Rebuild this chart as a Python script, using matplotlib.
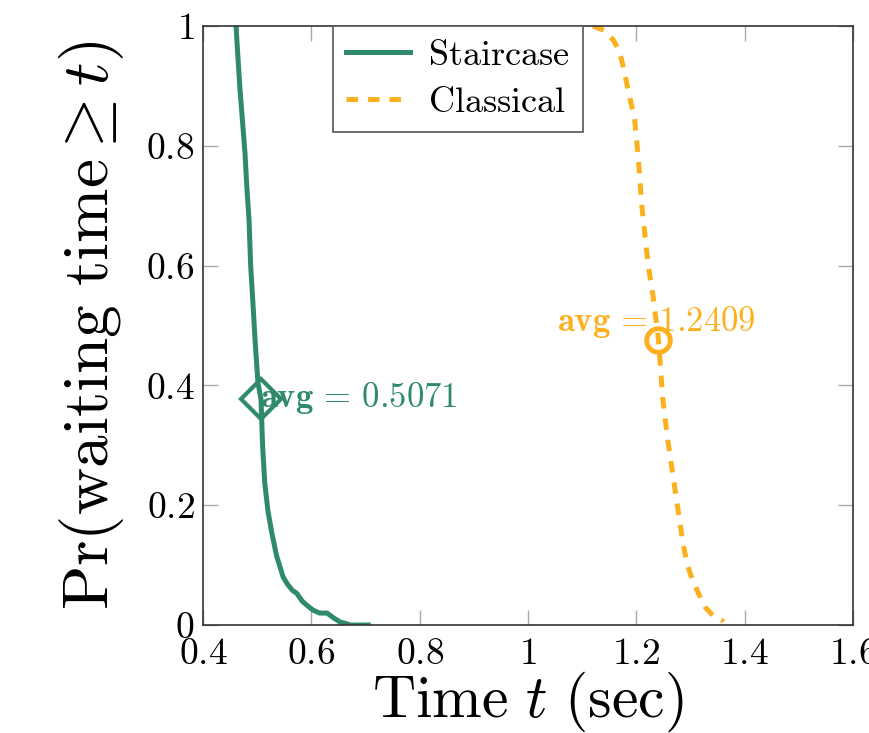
import matplotlib
matplotlib.use("Agg")
import matplotlib.pyplot as plt
from matplotlib.ticker import FuncFormatter

plt.rcParams['font.family'] = 'serif'
plt.rcParams['font.serif'] = ['cmr10', 'DejaVu Serif']
plt.rcParams['mathtext.fontset'] = 'cm'
plt.rcParams['axes.formatter.use_mathtext'] = True

# Staircase: survival curve of waiting time
stair_t = [0.461, 0.464, 0.468, 0.473, 0.4775, 0.481, 0.485, 0.488, 0.492, 0.4965, 0.5015,
           0.5071, 0.510, 0.514, 0.520, 0.527, 0.536, 0.548, 0.556, 0.565, 0.573,
           0.583, 0.593, 0.603, 0.615, 0.629, 0.641, 0.653, 0.662, 0.672, 0.705]
stair_p = [1.0, 0.955, 0.898, 0.84, 0.788, 0.73, 0.676, 0.6, 0.54, 0.47, 0.404,
           0.377, 0.30, 0.237, 0.19, 0.154, 0.115, 0.08, 0.068, 0.058, 0.053,
           0.04, 0.032, 0.025, 0.02, 0.02, 0.012, 0.005, 0.003, 0.0, 0.0]

# Classical
class_t = [1.12, 1.14, 1.157, 1.166, 1.173, 1.185, 1.197, 1.204, 1.21, 1.216, 1.222, 1.231,
           1.2409, 1.249, 1.258, 1.268, 1.277, 1.286, 1.292, 1.299, 1.312, 1.327, 1.342,
           1.358, 1.36]
class_p = [1.0, 0.993, 0.977, 0.963, 0.943, 0.893, 0.843, 0.775, 0.7, 0.65, 0.6, 0.548,
           0.476, 0.376, 0.309, 0.247, 0.192, 0.137, 0.11, 0.087, 0.058, 0.03, 0.015,
           0.008, 0.005]

stair_avg = 0.5071
stair_avg_p = 0.377
class_avg = 1.2409
class_avg_p = 0.476

green = '#2f8a6a'
orange = '#fdb01e'

fig = plt.figure(figsize=(8.69, 7.33), dpi=100)
ax = fig.add_axes([0.2336, 0.1473, 0.7480, 0.8172])

ax.plot(stair_t, stair_p, color=green, lw=3.6, label='Staircase', solid_joinstyle='round')
ax.plot(class_t, class_p, color=orange, lw=3.6, ls=(0, (2.3, 2.0)), label='Classical')

ax.plot([stair_avg], [stair_avg_p], marker='D', ms=20, mfc='none', mec=green, mew=3)
ax.plot([class_avg], [class_avg_p], marker='o', ms=17, mfc='none', mec=orange, mew=3.5)

ax.text(stair_avg - 0.002, stair_avg_p - 0.028, r'$\mathbf{avg}\,=\,0.5071$', color=green,
        fontsize=25, ha='left', va='bottom')
ax.text(class_avg - 0.003, class_avg_p + 0.0, r'$\mathbf{avg}\,=\,1.2409$', color=orange,
        fontsize=25, ha='center', va='bottom')

ax.set_xlim(0.4, 1.6)
ax.set_ylim(0, 1)
ax.set_xticks([0.4, 0.6, 0.8, 1.0, 1.2, 1.4, 1.6])
ax.set_yticks([0, 0.2, 0.4, 0.6, 0.8, 1.0])
fmt = FuncFormatter(lambda v, p: '$%g$' % round(v, 2))
ax.xaxis.set_major_formatter(fmt)
ax.yaxis.set_major_formatter(fmt)
ax.tick_params(direction='in', length=11, width=1, color='#aaaaaa', labelsize=27,
               top=True, right=True)
ax.tick_params(axis='x', pad=9)
ax.tick_params(axis='y', pad=6)
for s in ax.spines.values():
    s.set_color('#333333')
    s.set_linewidth(1.2)

ax.set_xlabel(r'$\mathrm{Time}\ t\ \mathrm{(sec)}$', fontsize=43, labelpad=-1)
ax.set_ylabel(r'$\mathrm{Pr(waiting\ time} \geq t)$', fontsize=47, labelpad=14)

leg = ax.legend(loc='upper center', bbox_to_anchor=(0.392, 1.0), fontsize=26,
                fancybox=False, edgecolor='#555555', framealpha=1, handlelength=1.75,
                borderaxespad=0, borderpad=0.38, labelspacing=0.4, handletextpad=0.5)
leg.get_frame().set_linewidth(1.2)
for t in leg.get_texts():
    t.set_text(r'$\mathrm{%s}$' % t.get_text())

fig.savefig('out.png', dpi=100)
